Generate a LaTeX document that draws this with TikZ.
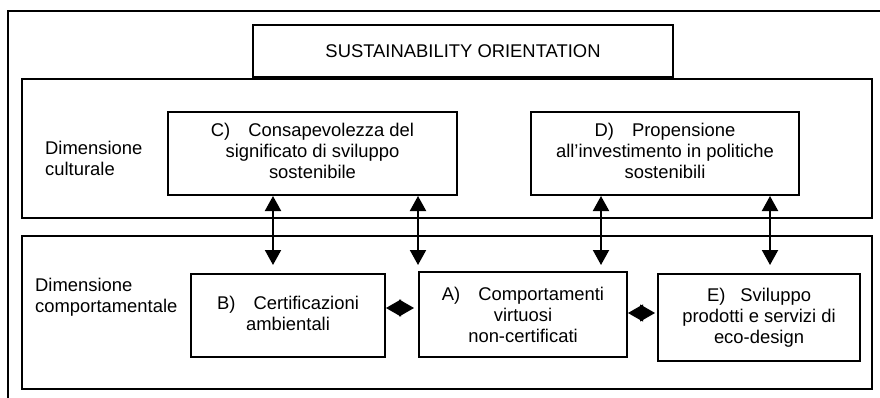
\documentclass[tikz,border=0pt]{standalone}
\usepackage{fontspec}
\setmainfont{Liberation Sans}
\usetikzlibrary{arrows.meta}
\begin{document}
\begin{tikzpicture}[x=1pt,y=-1pt,
  txt/.style={font=\fontsize{18.4}{21}\selectfont},
  dimbox/.style={draw,line width=1.2pt,inner sep=0pt},
  itembox/.style={draw,line width=2pt,inner sep=0pt,align=center,txt},
  dimlabel/.style={anchor=west,align=left,inner sep=0pt,txt},
  dbl/.style={{Triangle[width=16pt,length=15pt]}-{Triangle[width=16pt,length=15pt]},line width=2pt},
  diam/.style={{Triangle[width=17pt,length=15pt]}-{Triangle[width=17pt,length=15pt]},line width=1pt}
]
\useasboundingbox (0,0) rectangle (880,398);
\fill[white] (0,0) rectangle (880,398);
% outer frame (right and bottom edges lie outside the picture)
\draw[line width=1.2pt] (8,420) -- (8,11) -- (900,11);

% title
\node[itembox,minimum width=420pt,minimum height=52pt] (title) at (463,51) {SUSTAINABILITY ORIENTATION};

% dimension boxes
\node[dimbox,minimum width=850pt,minimum height=139pt] (cult) at (447,148.5) {};
\node[dimbox,minimum width=850pt,minimum height=153pt] (beh) at (447,312.5) {};

\node[dimlabel] (lcult) at (45,158) {Dimensione\\culturale};
\node[dimlabel] (lbeh) at (35,297) {Dimensione\\comportamentale};

% item boxes
\node[itembox,minimum width=289pt,minimum height=83pt] (C) at (312.5,153.5)
  {\raisebox{-4pt}{\begin{tabular}{@{}c@{}}C)\hspace{18pt}Consapevolezza del\\significato di sviluppo\\sostenibile\end{tabular}}};
\node[itembox,minimum width=268pt,minimum height=83pt] (D) at (665,153.5)
  {\raisebox{-4pt}{\begin{tabular}{@{}c@{}}D)\hspace{18pt}Propensione\\all’investimento in politiche\\sostenibili\end{tabular}}};
\node[itembox,minimum width=194pt,minimum height=83pt] (B) at (288,315.5)
  {\raisebox{6pt}{\begin{tabular}{@{}c@{}}B)\hspace{18pt}Certificazioni\\ambientali\end{tabular}}};
\node[itembox,minimum width=208pt,minimum height=85pt] (A) at (523,314.5)
  {A)\hspace{18pt}Comportamenti\\virtuosi\\non-certificati};
\node[itembox,minimum width=202pt,minimum height=87pt] (E) at (759,317.5)
  {E)\hspace{15pt}Sviluppo\\prodotti e servizi di\\eco-design};

% free ends of the vertical connectors
\coordinate (e1) at (273,265);
\coordinate (e2) at (418,265);
\coordinate (e3) at (601,265);
\coordinate (e4) at (770,265);

\draw[dbl] (C.south -| e1) -- (e1);
\draw[dbl] (C.south -| e2) -- (e2);
\draw[dbl] (D.south -| e3) -- (e3);
\draw[dbl] (D.south -| e4) -- (e4);

% horizontal diamond connectors
\draw[diam,shorten >=4pt] ([yshift=7.5pt]B.east) -- ([yshift=7.5pt]B.east -| A.west);
\draw[diam,shorten >=2pt] ([yshift=1.5pt]A.east) -- ([yshift=1.5pt]A.east -| E.west);
\end{tikzpicture}
\end{document}
